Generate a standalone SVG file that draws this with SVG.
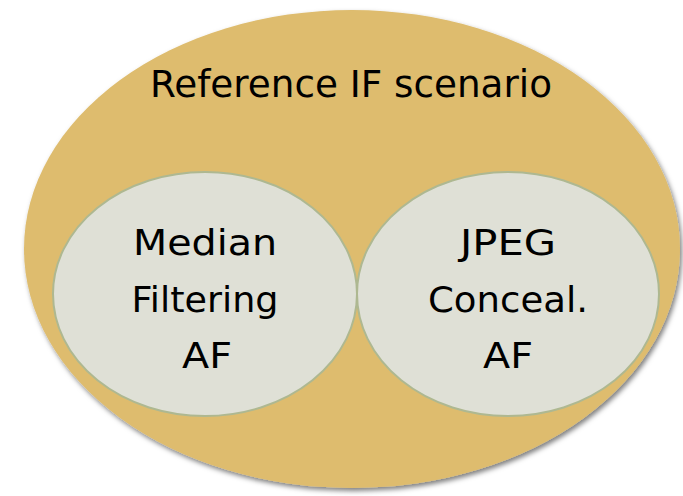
<svg xmlns="http://www.w3.org/2000/svg" width="683" height="496" viewBox="0 0 683 496">
  <defs>
    <filter id="shadow" x="-5%" y="-5%" width="110%" height="112%">
      <feDropShadow dx="2" dy="3" stdDeviation="2.5" flood-color="#000" flood-opacity="0.5"/>
    </filter>
  </defs>
  <style>
    .outer { fill: #DEBC6E; filter: url(#shadow); }
    .inner { fill: #DFE0D6; stroke: #AEB891; stroke-width: 2; }
    .label { font-family: "DejaVu Sans", "Liberation Sans", sans-serif; fill: #000; text-anchor: middle; }
    .title { font-size: 37px; }
    .item { font-size: 36px; }
  </style>
  <rect width="683" height="496" fill="#FFFFFF"/>

  <g id="reference-scenario">
    <ellipse class="outer" cx="352" cy="249" rx="328" ry="239"/>
    <text class="label title" x="351" y="97" textLength="402" lengthAdjust="spacingAndGlyphs">Reference IF scenario</text>
  </g>

  <g id="median-filtering-af">
    <ellipse class="inner" cx="205" cy="294" rx="152" ry="122"/>
    <text class="label item" x="205" y="255" textLength="144" lengthAdjust="spacingAndGlyphs">Median</text>
    <text class="label item" x="205" y="312" textLength="147" lengthAdjust="spacingAndGlyphs">Filtering</text>
    <text class="label item" x="207" y="368" textLength="50" lengthAdjust="spacingAndGlyphs">AF</text>
  </g>

  <g id="jpeg-conceal-af">
    <ellipse class="inner" cx="508" cy="294" rx="151" ry="122"/>
    <text class="label item" x="508" y="255" textLength="96" lengthAdjust="spacingAndGlyphs">JPEG</text>
    <text class="label item" x="508" y="312" textLength="160" lengthAdjust="spacingAndGlyphs">Conceal.</text>
    <text class="label item" x="508" y="368" textLength="50" lengthAdjust="spacingAndGlyphs">AF</text>
  </g>

  <g id="connectors"/>
</svg>
